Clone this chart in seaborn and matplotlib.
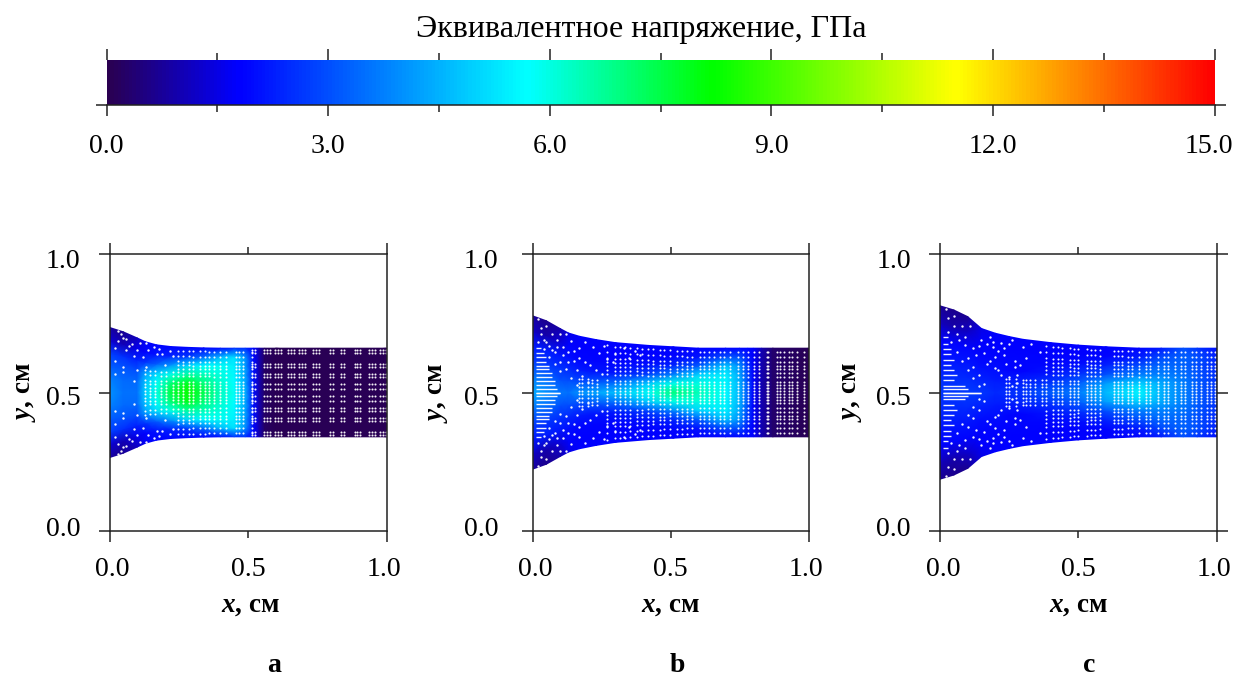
import matplotlib
matplotlib.use('Agg')
import matplotlib.pyplot as plt
from matplotlib.transforms import ScaledTranslation
import numpy as np
import seaborn as sns

# stress, GPa; rows go from the axis (s=0) to the wall (s=1)
s_rows = [0.0, 0.2, 0.4, 0.6, 0.8, 1.0]

a_x = [0, .05, .1, .13, .17, .22, .28, .34, .4, .45, .49, .52, .54, .56, .6, 1.0]
a_half = [.235, .219, .197, .183, .172, .166, .163, .161, .16, .16, .16, .16, .16, .16, .16, .16]
a_stress = [
    [4.0, 3.5, 3.5, 5.0, 6.0, 7.5, 8.3, 7.4, 6.3, 5.8, 4.5, 2.0, 1.0, .2, .05, .05],
    [3.8, 3.4, 3.4, 4.8, 5.8, 7.0, 7.9, 7.0, 6.2, 5.7, 4.4, 2.0, 1.0, .2, .05, .05],
    [3.2, 3.1, 3.0, 4.2, 5.1, 5.9, 6.6, 6.4, 6.0, 5.6, 4.3, 2.0, 1.0, .2, .05, .05],
    [2.8, 2.5, 2.3, 2.6, 3.2, 4.0, 5.0, 5.7, 5.8, 5.5, 4.2, 2.0, 1.0, .2, .05, .05],
    [1.4, 1.0, 1.6, 1.9, 2.1, 2.3, 2.6, 3.4, 4.6, 5.2, 4.0, 1.9, 1.0, .2, .05, .05],
    [.8, .7, 1.1, 1.7, 1.9, 1.9, 1.9, 1.9, 2.0, 2.5, 2.5, 1.9, 1.0, .2, .05, .05],
]

b_x = [0, .05, .1, .13, .17, .23, .3, .42, .51, .6, .7, .75, .78, .8, .83, .87, 1.0]
b_half = [.277, .259, .231, .215, .203, .191, .18, .17, .165, .16, .16, .16, .16, .16, .16, .16, .16]
b_stress = [
    [4.4, 4.0, 3.6, 3.5, 4.0, 4.3, 4.7, 5.8, 7.0, 6.4, 5.7, 4.5, 3.0, 1.9, 1.0, .3, .05],
    [3.6, 3.4, 3.0, 3.0, 2.9, 3.1, 3.4, 4.8, 5.9, 6.0, 5.6, 4.5, 3.0, 1.9, 1.0, .3, .05],
    [2.8, 2.6, 2.5, 2.4, 2.2, 2.1, 2.1, 2.7, 3.8, 5.0, 5.5, 4.3, 2.8, 1.9, 1.0, .3, .05],
    [2.2, 2.2, 2.1, 2.0, 1.9, 1.9, 1.9, 2.0, 2.3, 3.2, 4.8, 4.0, 2.6, 1.9, 1.0, .3, .05],
    [1.2, .9, 1.4, 1.9, 1.8, 1.8, 1.8, 1.8, 1.9, 2.1, 3.0, 3.0, 2.2, 1.8, 1.0, .3, .05],
    [.8, .6, .9, 1.5, 1.8, 1.8, 1.8, 1.8, 1.8, 1.8, 1.9, 1.9, 1.9, 1.8, 1.0, .3, .05],
]

c_x = [0, .05, .1, .15, .2, .25, .3, .4, .5, .6, .72, .8, .88, .93, 1.0]
c_half = [.313, .298, .274, .231, .214, .202, .192, .18, .171, .165, .16, .16, .16, .16, .16]
c_stress = [
    [2.6, 2.6, 2.7, 2.6, 2.4, 2.5, 2.6, 3.2, 3.7, 4.6, 5.6, 4.5, 3.8, 3.2, 2.6],
    [2.4, 2.4, 2.4, 2.3, 2.2, 2.2, 2.3, 2.6, 3.2, 4.2, 5.0, 4.4, 3.8, 3.2, 2.6],
    [2.1, 2.1, 2.1, 2.0, 2.0, 1.9, 1.9, 2.1, 2.5, 3.0, 3.8, 3.8, 3.5, 3.1, 2.5],
    [1.9, 1.9, 1.9, 1.9, 1.9, 1.9, 1.9, 1.9, 2.0, 2.3, 3.0, 3.4, 3.3, 3.0, 2.4],
    [1.1, .9, 1.2, 1.8, 1.8, 1.8, 1.8, 1.8, 1.8, 1.9, 2.2, 2.9, 3.3, 3.0, 2.3],
    [.7, .6, .7, 1.5, 1.8, 1.8, 1.8, 1.8, 1.8, 1.8, 1.9, 2.2, 3.0, 2.6, 2.0],
]

# white node gaps of the mesh: columns (x) and rows (s)
a_cols = [.515, .526, .557, .568, .579, .596, .607, .618, .645, .656, .667, .685, .696, .706, .734, .745,
          .756, .797, .808, .834, .845, .885, .895, .906, .936, .947, .958, .976, .987, .998]
a_mid_cols = [.11, .127, .145, .163, .187, .203, .23, .246, .264, .286, .3, .325, .343, .361, .379, .4,
              .419, .455, .469, .481, .515, .526]
b_cols = [.17, .18, .2, .215, .233, .27, .3, .318, .336, .354, .378, .396, .42, .438, .463, .477, .499, .523,
          .541, .559, .577, .607, .622, .638, .656, .68, .695, .716, .746, .764, .782, .803, .819, .849, .855,
          .885, .897, .91, .928, .94, .958, .982]
c_cols = [.24, .25, .275, .3, .312, .326, .345, .37, .385, .41, .425, .44, .47, .485, .5, .53, .545, .56, .58,
          .63, .645, .66, .68, .695, .72, .745, .76, .79, .81, .825, .85, .87, .885, .91, .925, .945, .965, .98, .995]
inner_rows = [.03, .1, .17, .24]
outer_rows = [.36, .44, .52, .6, .68, .8, .92]
dark_rows = [.07, .2, .34, .41, .58, .64, .9, .96]

# scattered nodes in the die entry (x, s), mirrored about the axis
a_fx = [.05, .05, .09, .1, .13, .14, .17, .19, .09, .07, .04, .05, .08, .11, .03, .02, .02, .02, .16, .2, .23, .06, .12,
        .03, .06, .1, .13, .18, .22]
a_fs = [.42, .33, .2, .42, .5, .85, .8, .82, .66, .8, .95, .9, .85, .92, .98, .7, .5, .3, .95, .6, .8, .72, .68,
        .82, .9, .78, .97, .92, .9]
b_fx = [.02, .03, .05, .07, .09, .1, .12, .14, .15, .17, .19, .21, .23, .25, .27, .29, .11, .13, .16, .18, .2, .22,
        .24, .26, .04, .06, .08, .1, .12, .14, .16, .3, .33, .35, .37, .39, .03, .05, .07, .09, .11, .02, .04,
        .06, .08, .1, .13, .15, .17, .19]
b_fs = [.98, .88, .93, .85, .8, .92, .96, .88, .72, .62, .56, .5, .42, .36, .66, .6, .6, .52, .4, .3, .2, .86,
        .76, .9, .72, .66, .6, .48, .38, .24, .14, .78, .9, .7, .86, .78, .8, .7, .62, .7, .72, .68, .6,
        .5, .42, .34, .68, .55, .8, .92]
c_fx = [.02, .03, .05, .06, .08, .09, .11, .13, .15, .17, .19, .21, .23, .25, .27, .28, .1, .12, .14, .16, .18, .2,
        .22, .24, .26, .04, .06, .08, .1, .12, .14, .16, .18, .2, .22, .3, .33, .36, .26, .28, .03, .05, .07,
        .09, .12, .14, .17, .19, .21, .23, .25, .27, .29, .31]
c_fs = [.98, .88, .93, .72, .85, .62, .9, .55, .82, .46, .75, .38, .66, .28, .58, .18, .45, .36, .26, .14, .9, .6,
        .86, .5, .95, .6, .5, .4, .3, .2, .1, .62, .52, .42, .3, .86, .92, .8, .12, .32, .72, .8, .66,
        .72, .62, .7, .78, .84, .7, .78, .86, .46, .52, .66]
# white streaks at the inlet: row and where they stop
b_streak_s = [.0, .05, .1, .15, .2, .25, .3, .35, .4, .46, .52, .58]
b_streak_end = [.1, .09, .08, .08, .07, .07, .06, .06, .05, .05, .04, .03]
c_streak_s = [.0, .04, .08, .14, .2, .26, .32, .38, .44, .5, .56, .64]
c_streak_end = [.15, .1, .09, .05, .06, .05, .04, .05, .04, .04, .03, .03]

bar_ticks = [0, 3, 6, 9, 12, 15]
bar_minor = [1.5, 4.5, 7.5, 10.5, 13.5]
stops = ['#2a0050', '#0000ff', '#00ffff', '#00ff00', '#ffff00', '#ff0000']
stop_at = [0.0, 1.8, 5.7, 8.2, 11.5, 15.0]

sns.set_theme(style='ticks')
plt.rcParams['font.family'] = ['Liberation Serif', 'DejaVu Serif']
plt.rcParams['mathtext.fontset'] = 'custom'
plt.rcParams['mathtext.bfit'] = 'Liberation Serif:italic:bold'
plt.rcParams['mathtext.rm'] = 'Liberation Serif'

W, H = 1238, 679
INK = '#222222'

# seaborn blends evenly, so repeat colours in proportion to the stop spacing
ramp = []
for i in range(len(stops) - 1):
    n = int(round((stop_at[i + 1] - stop_at[i]) * 20))
    ramp += sns.blend_palette([stops[i], stops[i + 1]], n)
cmap = matplotlib.colors.ListedColormap(ramp)

fig = plt.figure(figsize=(W / 100, H / 100), dpi=100)


def box(left, top, right, bottom):
    return [left / W, 1 - bottom / H, (right - left) / W, (bottom - top) / H]


def shift(label, dx, dy):
    # nudge a tick label by pixels
    label.set_transform(label.get_transform() + ScaledTranslation(dx / 100, -dy / 100, fig.dpi_scale_trans))


def draw_panel(ax, xs, half, stress, y_pad=13):
    xs = np.array(xs)
    half = np.array(half)
    table = np.array(stress)
    s_full = np.r_[-np.array(s_rows[::-1]), s_rows[1:]]
    values = np.vstack([table[::-1], table[1:]])
    X = np.tile(xs, (len(s_full), 1))
    Y = 0.5 + np.outer(s_full, half)
    mesh = ax.pcolormesh(X, Y, values, shading='gouraud', cmap=cmap, vmin=0, vmax=15, zorder=1)
    ax.set_xlim(0, 1)
    ax.set_ylim(0, 1)
    ax.set_xticks([0, 1])
    ax.set_xticks([.5], minor=True)
    ax.set_xticklabels(['0.0', '1.0'])
    ax.set_xticklabels(['0.5'], minor=True)
    ax.set_yticks([0, .5, 1])
    ax.set_yticklabels(['0.0', '0.5', '1.0'])
    ax.tick_params(axis='x', which='major', top=True, bottom=True, direction='out', length=8, width=1.1,
                   color=INK, labelsize=20, pad=11, labelcolor='black')
    ax.tick_params(axis='x', which='minor', top=True, bottom=True, direction='out', length=5, width=1.1,
                   color=INK, labelsize=20, pad=14, labelcolor='black')
    ax.tick_params(axis='y', left=True, direction='out', length=8, width=1.1, color=INK,
                   labelsize=20, pad=y_pad, labelcolor='black')
    for sp in ax.spines.values():
        sp.set_linewidth(1.1)
        sp.set_color(INK)
    labels = ax.get_xticklabels()
    shift(labels[0], 3, 0)
    shift(labels[1], -3, 0)
    for label, dy in zip(ax.get_yticklabels(), [-4, 3, 5]):
        shift(label, 0, dy)
    return mesh, xs, half


def nodes(ax, xs, half, cols, rows, x_from=0.0, x_to=1.0):
    px, py = [], []
    for x in cols:
        if x < x_from or x > x_to:
            continue
        h = np.interp(x, xs, half)
        for s in rows:
            px += [x, x]
            py += [.5 + s * h, .5 - s * h]
    ax.scatter(px, py, s=2.2, c='white', linewidths=0, alpha=.95, zorder=2)


def funnel(ax, xs, half, fx, fs):
    h = np.interp(fx, xs, half)
    fx = np.array(fx)
    fs = np.array(fs)
    ax.scatter(np.r_[fx, fx], np.r_[.5 + fs * h, .5 - fs * h], s=3, c='white', linewidths=0, alpha=.95, zorder=2)


def streaks(ax, xs, half, rows, ends):
    for s, end in zip(rows, ends):
        h = half[0]
        ax.hlines([.5 + s * h, .5 - s * h], .012, end, colors='white', linewidth=1.0, alpha=.95, zorder=2)


ax_a = fig.add_axes(box(109.5, 254, 386.5, 531))
ax_b = fig.add_axes(box(532.5, 254, 808.5, 531))
ax_c = fig.add_axes(box(940, 254, 1216.5, 531))

mesh, xa, ha = draw_panel(ax_a, a_x, a_half, a_stress)
nodes(ax_a, xa, ha, a_cols, dark_rows)
nodes(ax_a, xa, ha, a_mid_cols, inner_rows + [.36, .44], .12, .52)
nodes(ax_a, xa, ha, a_mid_cols, outer_rows[2:], .24, .52)
funnel(ax_a, xa, ha, a_fx, a_fs)

_, xb, hb = draw_panel(ax_b, b_x, b_half, b_stress, y_pad=16.5)
nodes(ax_b, xb, hb, b_cols, inner_rows)
nodes(ax_b, xb, hb, b_cols, outer_rows, .27)
funnel(ax_b, xb, hb, b_fx, b_fs)
streaks(ax_b, xb, hb, b_streak_s, b_streak_end)

_, xc, hc = draw_panel(ax_c, c_x, c_half, c_stress)
nodes(ax_c, xc, hc, c_cols, inner_rows)
nodes(ax_c, xc, hc, c_cols, outer_rows, .38)
funnel(ax_c, xc, hc, c_fx, c_fs)
streaks(ax_c, xc, hc, c_streak_s, c_streak_end)
ax_c.tick_params(axis='y', right=True)

# colour bar
cax = fig.add_axes(box(106.5, 60, 1214.5, 105))
cb = fig.colorbar(mesh, cax=cax, orientation='horizontal')
cb.outline.set_visible(False)
cb.set_ticks(bar_ticks)
cb.set_ticklabels(['%.1f' % v for v in bar_ticks])
cax.set_xticks(bar_minor, minor=True)
cax.tick_params(axis='x', which='major', top=True, bottom=True, direction='out', length=8, width=1.1,
                color=INK, labelsize=20, pad=13, labelcolor='black')
cax.tick_params(axis='x', which='minor', top=True, bottom=True, direction='out', length=5, width=1.1, color=INK)
cax.spines['bottom'].set_visible(True)
cax.spines['bottom'].set_linewidth(1.1)
cax.spines['bottom'].set_color(INK)
cax.set_yticks([0])
cax.set_yticklabels([''])
cax.tick_params(axis='y', left=True, right=True, direction='out', length=8, width=1.1, color=INK)
shift(cax.get_xticklabels()[-1], -6, 0)


def text_px(x, y, label, **kw):
    fig.text(x / W, 1 - y / H, label, ha='center', color='black', **kw)


text_px(641, 29, 'Эквивалентное напряжение, ГПа', fontsize=23, va='center')
for x in [251, 671, 1079]:
    text_px(x, 605, r'$\mathbfit{x}$, см', fontsize=19.5, fontweight='bold', va='center')
for x, y in zip([25, 437, 852], [392, 393, 392]):
    text_px(x, y, r'$\mathbfit{y}$, см', fontsize=19.5, fontweight='bold', rotation=90, va='center')
for x, letter in zip([274, 677, 1089], ['a', 'b', 'c']):
    text_px(x, 672, letter, fontsize=20, fontweight='bold', va='baseline')

fig.savefig('out.png', dpi=100)
